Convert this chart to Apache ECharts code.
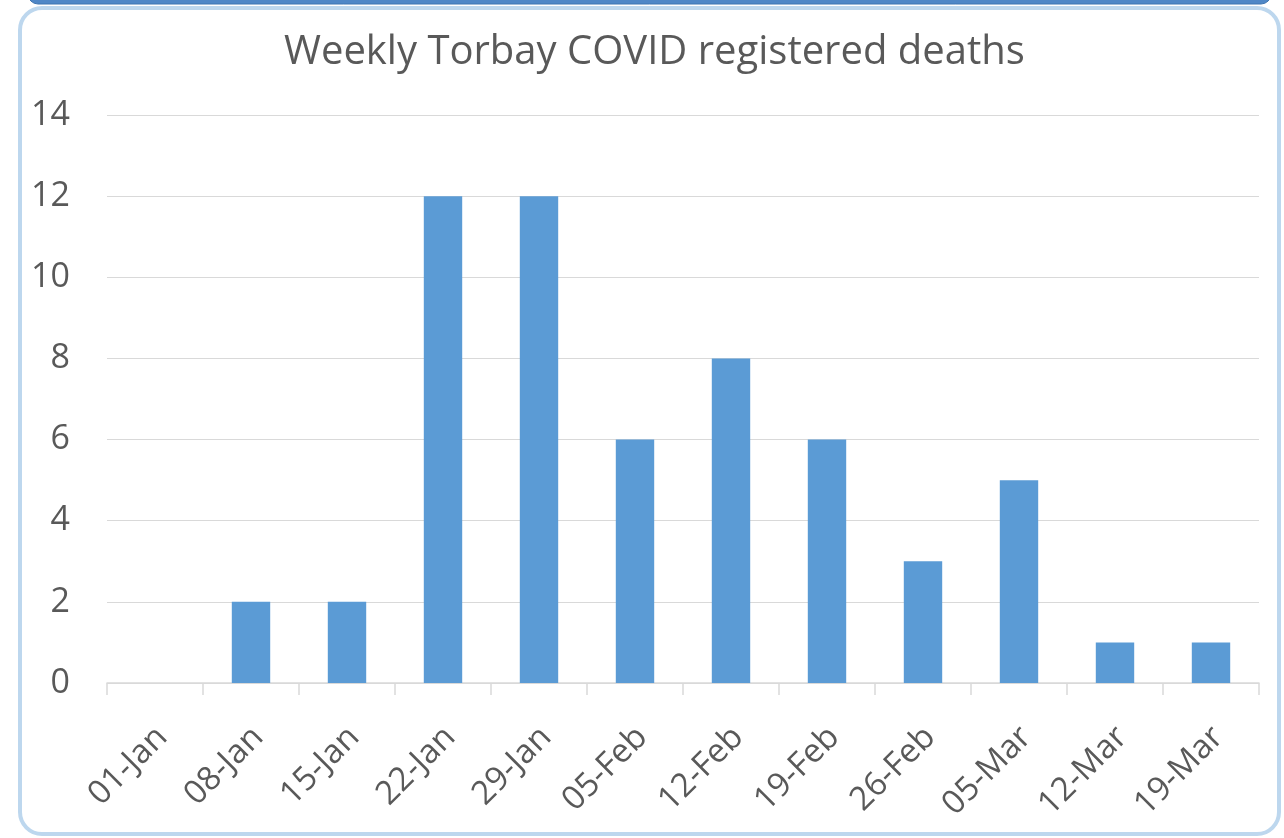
<!DOCTYPE html>
<html><head><meta charset="utf-8">
<script src="https://cdn.jsdelivr.net/npm/echarts@6/dist/echarts.min.js"></script>
<style>html,body{margin:0;padding:0;background:#fff;}#c{width:1284px;height:838px;}</style>
</head><body><div id="c"></div>
<script>
const categories = ['01-Jan','08-Jan','15-Jan','22-Jan','29-Jan','05-Feb','12-Feb','19-Feb','26-Feb','05-Mar','12-Mar','19-Mar'];
const deaths = [0,2,2,12,12,6,8,6,3,5,1,1];
const titleText = 'Weekly Torbay COVID registered deaths';
const FONT = 'Open Sans';
const chart = echarts.init(document.getElementById('c'));
chart.setOption({
  animation:false,
  backgroundColor:'#fff',
  graphic:[
    {type:'rect', shape:{x:28,y:-20,width:1243,height:24,r:10}, style:{fill:'#4F87C7', stroke:'#3E74B0', lineWidth:1}, z:-1},
    {type:'rect', shape:{x:20,y:8,width:1259,height:826,r:22}, style:{fill:'#fff', stroke:'#BDD7EE', lineWidth:4}, z:-2}
  ],
  title:{text:titleText, left:279, top:28, textStyle:{fontFamily:FONT, fontSize:40, fontWeight:'normal', color:'#595959'}},
  grid:{left:107, right:25, top:115, bottom:155, containLabel:false, outerBoundsMode:'none'},
  xAxis:{type:'category', data:categories,
    axisLine:{lineStyle:{color:'#D9D9D9', width:1.5}},
    axisTick:{show:true, length:12, lineStyle:{color:'#D9D9D9', width:1.5}},
    axisLabel:{rotate:45, margin:42, verticalAlign:'top', lineHeight:20, fontFamily:FONT, fontSize:33, color:'#595959', interval:0}},
  yAxis:{type:'value', min:0, max:14, interval:2,
    axisLine:{show:false}, axisTick:{show:false},
    splitLine:{lineStyle:{color:'#D9D9D9', width:1}},
    axisLabel:{margin:37, fontFamily:FONT, fontSize:34, color:'#595959'}},
  series:[{type:'bar', data:deaths, barWidth:'40%', itemStyle:{color:'#5B9BD5'}}]
});
</script></body></html>
